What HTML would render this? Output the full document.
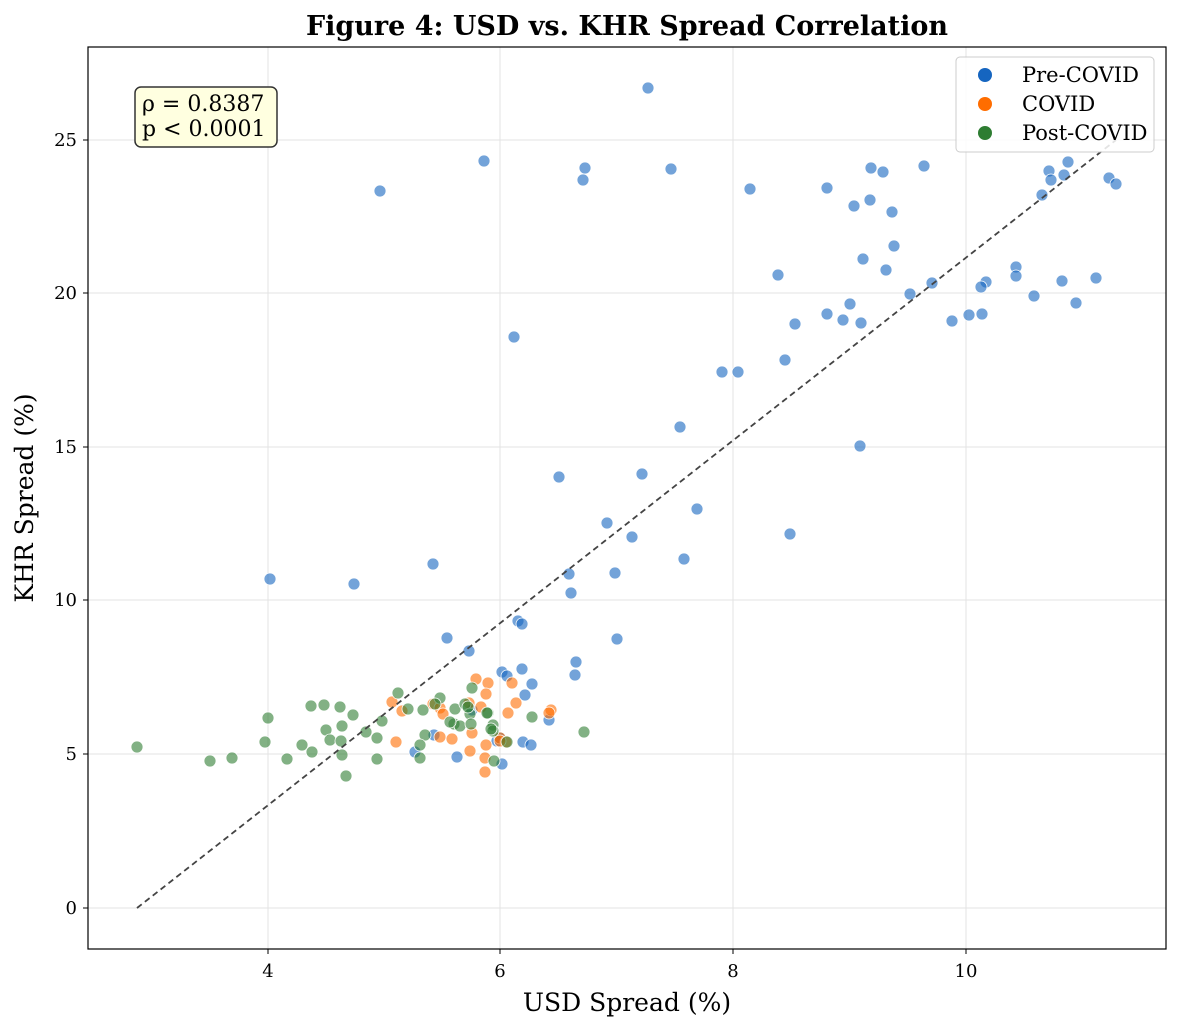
<!DOCTYPE html>
<html><head><meta charset="utf-8"><style>
html,body{margin:0;padding:0;background:#fff;}
svg{display:block;font-family:"DejaVu Serif","Liberation Serif",serif;}
</style></head><body>
<svg id="s" width="1180" height="1030" viewBox="0 0 1180 1030" xmlns="http://www.w3.org/2000/svg">
<rect width="1180" height="1030" fill="#fff"/>
<g stroke="#e3e3e3" stroke-width="1">
<line x1="268" y1="47" x2="268" y2="949"/><line x1="500" y1="47" x2="500" y2="949"/>
<line x1="733" y1="47" x2="733" y2="949"/><line x1="966" y1="47" x2="966" y2="949"/>
<line x1="88" y1="908" x2="1166" y2="908"/><line x1="88" y1="754" x2="1166" y2="754"/>
<line x1="88" y1="600" x2="1166" y2="600"/><line x1="88" y1="447" x2="1166" y2="447"/>
<line x1="88" y1="293" x2="1166" y2="293"/><line x1="88" y1="140" x2="1166" y2="140"/>
</g>
<g id="pts"></g>
<line x1="137" y1="908" x2="1116" y2="140" stroke="#444" stroke-width="1.8" stroke-dasharray="6,4"/>
<rect x="88" y="47" width="1078" height="902" fill="none" stroke="#000" stroke-width="1.2"/>
<g stroke="#000" stroke-width="1">
<line x1="268" y1="949" x2="268" y2="954"/><line x1="500" y1="949" x2="500" y2="954"/>
<line x1="733" y1="949" x2="733" y2="954"/><line x1="966" y1="949" x2="966" y2="954"/>
<line x1="83" y1="908" x2="88" y2="908"/><line x1="83" y1="754" x2="88" y2="754"/>
<line x1="83" y1="600" x2="88" y2="600"/><line x1="83" y1="447" x2="88" y2="447"/>
<line x1="83" y1="293" x2="88" y2="293"/><line x1="83" y1="140" x2="88" y2="140"/>
</g>
<g font-size="18" fill="#000" text-anchor="middle">
<text x="268" y="977">4</text><text x="500" y="977">6</text><text x="733" y="977">8</text><text x="966" y="977">10</text>
</g>
<g font-size="18" fill="#000" text-anchor="end">
<text x="77" y="914">0</text><text x="77" y="760">5</text><text x="77" y="606">10</text>
<text x="77" y="453">15</text><text x="77" y="299">20</text><text x="77" y="146">25</text>
</g>
<text x="627" y="1011" font-size="25" text-anchor="middle">USD Spread (%)</text>
<text transform="translate(33,498) rotate(-90)" font-size="25" text-anchor="middle">KHR Spread (%)</text>
<text x="627" y="35" font-size="27" font-weight="bold" text-anchor="middle">Figure 4: USD vs. KHR Spread Correlation</text>
<rect x="135" y="87" width="142" height="60" rx="6" fill="#ffffe0" stroke="#333" stroke-width="1.5"/>
<text x="142" y="111" font-size="22">ρ = 0.8387</text>
<text x="142" y="136" font-size="22">p &lt; 0.0001</text>
<rect x="956" y="57" width="198" height="95" rx="4" fill="#fff" fill-opacity="0.85" stroke="#ccc" stroke-width="1"/>
<circle cx="985" cy="75" r="7" fill="#1565c0"/><text x="1022" y="82" font-size="21">Pre-COVID</text>
<circle cx="985" cy="104" r="7" fill="#ff6d00"/><text x="1022" y="111" font-size="21">COVID</text>
<circle cx="985" cy="133" r="7" fill="#2e7d32"/><text x="1022" y="140" font-size="21">Post-COVID</text>
</svg>
<script>
var B=[[648,88],[484,161],[380,191],[585,168],[583,180],[671,169],[750,189],[827,188],[871,168],[883,172],[870,200],[854,206],[892,212],[924,166],[1049,171],[1068,162],[1064,175],[1051,180],[1042,195],[1109,178],[1116,184],[894,246],[863,259],[886,270],[778,275],[932,283],[910,294],[1016,267],[1016,276],[986,282],[981,287],[1062,281],[1096,278],[1034,296],[1076,303],[850,304],[827,314],[843,320],[861,323],[795,324],[952,321],[969,315],[982,314],[514,337],[785,360],[738,372],[722,372],[680,427],[860,446],[559,477],[642,474],[697,509],[607,523],[632,537],[790,534],[684,559],[569,574],[615,573],[270,579],[354,584],[433,564],[571,593],[447,638],[617,639],[469,651],[518,621],[522,624],[576,662],[575,675],[502,672],[507,676],[522,669],[532,684],[525,695],[472,710],[549,720],[434,735],[500,738],[497,741],[523,742],[531,745],[415,752],[457,757],[502,764]];
var O=[[392,702],[402,711],[433,704],[440,708],[443,714],[440,737],[452,739],[476,679],[488,683],[486,694],[469,703],[481,707],[512,683],[516,703],[508,713],[472,733],[470,751],[486,745],[485,758],[485,772],[500,738],[506,742],[551,710],[549,713],[396,742],[500,741]];
var G=[[137,747],[210,761],[232,758],[265,742],[268,718],[287,759],[302,745],[312,752],[311,706],[324,705],[326,730],[330,740],[340,707],[342,726],[342,755],[346,776],[353,715],[366,732],[377,738],[377,759],[382,721],[398,693],[408,709],[423,710],[425,735],[420,745],[420,758],[440,698],[454,724],[460,726],[455,709],[465,704],[470,714],[471,724],[472,688],[488,713],[487,713],[493,725],[493,731],[494,761],[507,742],[532,717],[584,732],[341,741],[435,704],[450,722],[468,707],[491,729]];
var g=document.getElementById('pts'),h='';
[[B,'#1565c0'],[O,'#ff6d00'],[G,'#2e7d32']].forEach(function(s){s[0].forEach(function(p){h+='<circle cx="'+p[0]+'" cy="'+p[1]+'" r="6" fill="'+s[1]+'" fill-opacity="0.6" stroke="#fff" stroke-width="0.8"/>';});});
g.innerHTML=h;
</script>
</body></html>
